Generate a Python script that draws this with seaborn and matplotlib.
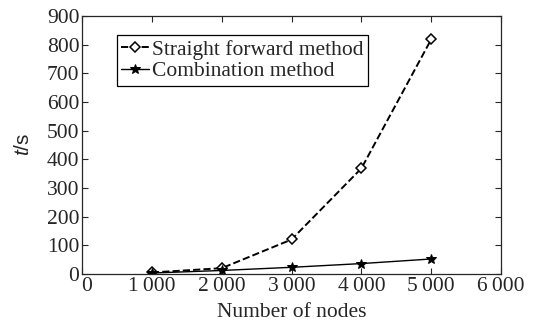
import matplotlib
matplotlib.use("Agg")
import matplotlib.pyplot as plt
import matplotlib.transforms as mtransforms
import seaborn as sns
import pandas as pd

nodes = [1000, 2000, 3000, 4000, 5000]
straight = [5, 20, 120, 368, 818]
combination = [3, 12, 23, 36, 52]
series_names = ["Straight forward method", "Combination method"]
xticks = [0, 1000, 2000, 3000, 4000, 5000, 6000]
xtick_labels = ["0", "1\u2009000", "2\u2009000", "3\u2009000", "4\u2009000", "5\u2009000", "6\u2009000"]
yticks = [0, 100, 200, 300, 400, 500, 600, 700, 800, 900]

sns.set_style("ticks")
plt.rcParams['font.family'] = ['Liberation Serif', 'DejaVu Serif']
plt.rcParams['mathtext.fontset'] = 'custom'
plt.rcParams['mathtext.it'] = 'Liberation Sans:italic'
plt.rcParams['mathtext.rm'] = 'Liberation Sans'

df = pd.DataFrame({
    "nodes": nodes * 2,
    "t": straight + combination,
    "method": [series_names[0]] * len(nodes) + [series_names[1]] * len(nodes),
})

fig = plt.figure(figsize=(5.44, 3.30), dpi=100)
ax = fig.add_axes([0.151, 0.170, 0.770, 0.782])

sns.lineplot(data=df[df.method == series_names[0]], x="nodes", y="t", ax=ax,
             color="black", linestyle="--", linewidth=1.4, marker="D", markersize=5,
             markerfacecolor="white", markeredgecolor="black", markeredgewidth=1.1,
             label=series_names[0])
sns.lineplot(data=df[df.method == series_names[1]], x="nodes", y="t", ax=ax,
             color="black", linestyle="-", linewidth=1.0, marker="*", markersize=7,
             markerfacecolor="black", markeredgecolor="black",
             label=series_names[1])

ax.set_xlim(0, 6000)
ax.set_ylim(0, 900)
ax.set_xticks(xticks)
ax.set_xticklabels(xtick_labels)
ax.set_yticks(yticks)
ax.tick_params(direction="in", top=True, right=True, labelsize=15.5, length=4, width=0.8, pad=2)
for s in ax.spines.values():
    s.set_linewidth(0.9)
    s.set_visible(True)
ax.set_xlabel("Number of nodes", fontsize=15.5, labelpad=5)
ax.set_ylabel("$t$/s", fontsize=15, labelpad=10, family="Liberation Sans")

# nudge the x "0" label right so it doesn't collide with the y "0"
lbl0 = ax.get_xticklabels()[0]
lbl0.set_transform(lbl0.get_transform() + mtransforms.ScaledTranslation(4 / 100, 0, fig.dpi_scale_trans))

leg = ax.legend(loc="upper left", bbox_to_anchor=(0.083, 0.925), fontsize=15.5,
                frameon=True, fancybox=False, edgecolor="black", framealpha=1,
                handlelength=1.3, handletextpad=0.15, borderpad=0.2, labelspacing=0.08,
                borderaxespad=0)
leg.get_frame().set_linewidth(0.9)

fig.savefig("out.png", dpi=100)
